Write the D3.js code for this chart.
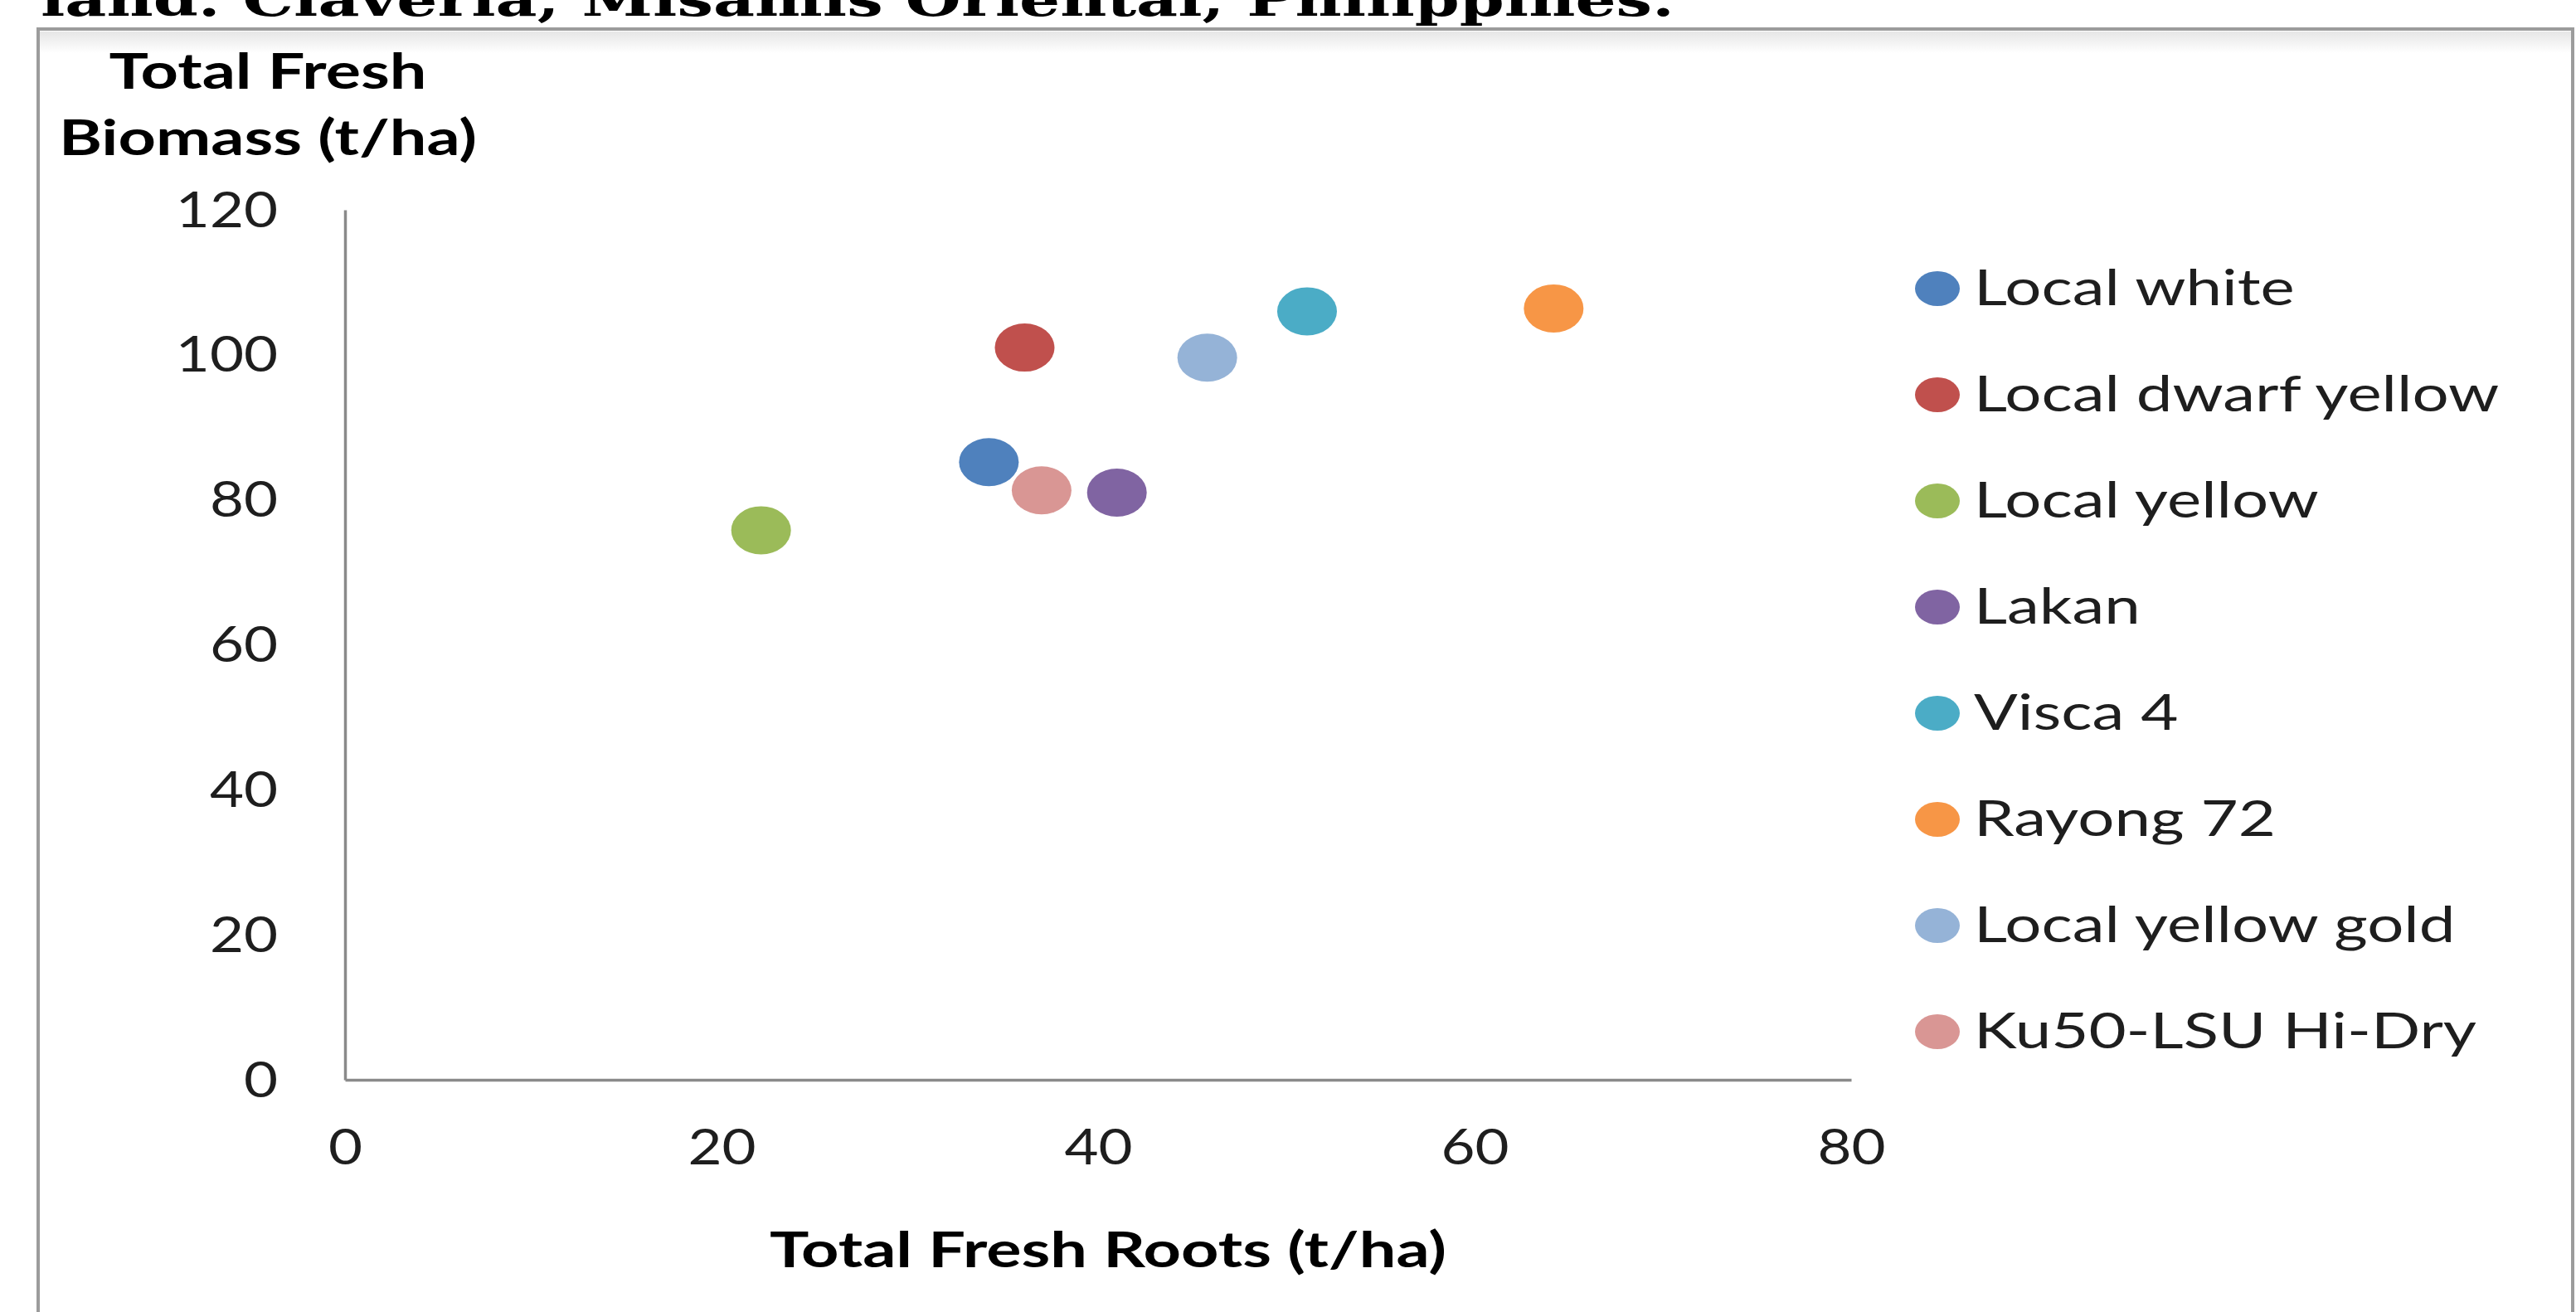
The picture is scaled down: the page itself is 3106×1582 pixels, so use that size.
<!DOCTYPE html>
<html>
<head>
<meta charset="utf-8">
<script src="https://cdn.jsdelivr.net/npm/d3@7"></script>
<style>
  html, body { margin: 0; padding: 0; background: #fff; overflow: hidden; }
  svg { display: block; }
</style>
</head>
<body>
<svg id="chart" width="3106" height="1582"></svg>
<script>
// ---- data ----
const varieties = ["Local white", "Local dwarf yellow", "Local yellow", "Lakan", "Visca 4", "Rayong 72", "Local yellow gold", "Ku50-LSU Hi-Dry"];
const freshRoots = [34.2, 36.1, 22.1, 41.0, 51.1, 64.2, 45.8, 37.0];
const freshBiomass = [85.2, 101.0, 75.8, 81.0, 106.0, 106.4, 99.6, 81.3];
const colors = ["#4F81BD", "#C0504D", "#9BBB59", "#8064A2", "#4BACC6", "#F79646", "#95B3D7", "#D99694"];
const xTicks = [0, 20, 40, 60, 80];
const yTicks = [0, 20, 40, 60, 80, 100, 120];
const titleText = "land. Claveria, Misamis Oriental, Philippines.";
const xTitle = "Total Fresh Roots (t/ha)";
const yTitleLines = ["Total Fresh", "Biomass (t/ha)"];

// ---- layout ----
const svg = d3.select("#chart");
const W = 3106, H = 1582;
svg.append("rect").attr("width", W).attr("height", H).attr("fill", "#fff");

const defs = svg.append("defs");
const grad = defs.append("linearGradient").attr("id", "topShade").attr("x1", 0).attr("x2", 0).attr("y1", 0).attr("y2", 1);
grad.append("stop").attr("offset", "0%").attr("stop-color", "#e6e6e6");
grad.append("stop").attr("offset", "100%").attr("stop-color", "#ffffff");

// frame of the chart (extends below the page)
svg.append("rect").attr("x", 48).attr("y", 38).attr("width", 3052).attr("height", 26).attr("fill", "url(#topShade)");
svg.append("rect").attr("x", 46).attr("y", 35).attr("width", 3056).attr("height", 1700)
  .attr("fill", "none").attr("stroke", "#9c9c9c").attr("stroke-width", 4);

// title, cut at the top edge
svg.append("text").attr("x", 49).attr("y", 19)
  .attr("font-family", "'DejaVu Serif', serif").attr("font-weight", "bold").attr("font-size", 56)
  .attr("fill", "#000").attr("textLength", 1970).attr("lengthAdjust", "spacingAndGlyphs")
  .text(titleText);

const x = d3.scaleLinear().domain([0, 80]).range([416, 2232]);
const y = d3.scaleLinear().domain([0, 120]).range([1302, 253]);

const FONT = "Lato, 'Open Sans', sans-serif";
const SX_TICK = 1.18;   // horizontal stretch of the original picture
const SX_LEG = 1.30;
const SX_BOLD = 1.32;

function stretchAt(ax, s) {
  return `translate(${ax},0) scale(${s},1) translate(${-ax},0)`;
}

// axes
const yAxis = svg.append("g").attr("transform", "translate(416,0)")
  .call(d3.axisLeft(y).tickValues(yTicks).tickSize(0).tickSizeOuter(0).tickPadding(0));
const xAxis = svg.append("g").attr("transform", "translate(0,1302)")
  .call(d3.axisBottom(x).tickValues(xTicks).tickSize(0).tickSizeOuter(0).tickPadding(0));

[yAxis, xAxis].forEach(g => {
  g.select(".domain").attr("stroke", "#8a8a8a").attr("stroke-width", 3.5);
  g.selectAll("text").attr("font-family", FONT).attr("font-size", 60).attr("fill", "#1e1e1e");
});
yAxis.selectAll(".tick text").attr("x", -81).attr("dy", null).attr("y", 20).attr("text-anchor", "end")
  .attr("transform", stretchAt(-81, SX_TICK));
xAxis.selectAll(".tick text").attr("y", 102).attr("dy", null).attr("text-anchor", "middle")
  .attr("transform", `scale(${SX_TICK},1)`);

// axis titles
svg.append("text").attr("x", 1336).attr("y", 1528).attr("text-anchor", "middle")
  .attr("font-family", FONT).attr("font-weight", "bold").attr("font-size", 60).attr("fill", "#000")
  .attr("transform", stretchAt(1336, SX_BOLD))
  .text(xTitle);

yTitleLines.forEach((t, i) => {
  svg.append("text").attr("x", 323).attr("y", 107 + i * 80).attr("text-anchor", "middle")
    .attr("font-family", FONT).attr("font-weight", "bold").attr("font-size", 60).attr("fill", "#000")
    .attr("transform", stretchAt(323, SX_BOLD))
    .text(t);
});

// points
const pts = varieties.map((v, i) => ({ name: v, xr: freshRoots[i], yb: freshBiomass[i], c: colors[i] }));
svg.append("g").selectAll("ellipse").data(pts).join("ellipse")
  .attr("cx", d => x(d.xr)).attr("cy", d => y(d.yb))
  .attr("rx", 36).attr("ry", 29)
  .attr("fill", d => d.c);

// legend
const leg = svg.append("g");
const rows = leg.selectAll("g").data(pts).join("g")
  .attr("transform", (d, i) => `translate(2336,${348 + i * 128})`);
rows.append("ellipse").attr("rx", 27).attr("ry", 21).attr("fill", d => d.c);
rows.append("text").attr("x", 44).attr("y", 20)
  .attr("font-family", FONT).attr("font-size", 60).attr("fill", "#1e1e1e")
  .attr("transform", stretchAt(44, SX_LEG))
  .text(d => d.name);
</script>
</body>
</html>
